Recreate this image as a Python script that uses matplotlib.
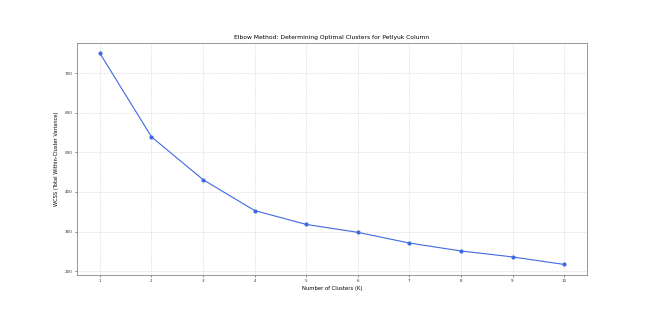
import matplotlib
matplotlib.use("Agg")
import matplotlib.pyplot as plt

k_values = [1, 2, 3, 4, 5, 6, 7, 8, 9, 10]
wcss = [750, 539, 431, 353, 318, 298, 271, 251, 236, 217]
y_ticks = [200, 300, 400, 500, 600, 700]

fig = plt.figure(figsize=(6.57, 3.36), dpi=100)
ax = fig.add_axes([76.7/657, 1 - 275/336, (587.3-76.7)/657, (275-42.7)/336])
ax.plot(k_values, wcss, marker='o', color='royalblue', linewidth=0.8, markersize=2)
ax.set_title('Elbow Method: Determining Optimal Clusters for Petlyuk Column', fontsize=4.3, pad=3)
ax.set_xlabel('Number of Clusters (K)', fontsize=3.8, labelpad=2)
ax.set_ylabel('WCSS (Total Within-Cluster Variance)', fontsize=3.7, labelpad=4)
ax.set_xticks(k_values)
ax.set_yticks(y_ticks)
ax.tick_params(labelsize=3, length=1.5, width=0.4, pad=1.5, colors='#333333')
ax.grid(True, linestyle='--', linewidth=0.4, alpha=0.5)
for s in ax.spines.values():
    s.set_linewidth(0.6)
    s.set_color('#888888')
fig.savefig('out.png', dpi=100)
